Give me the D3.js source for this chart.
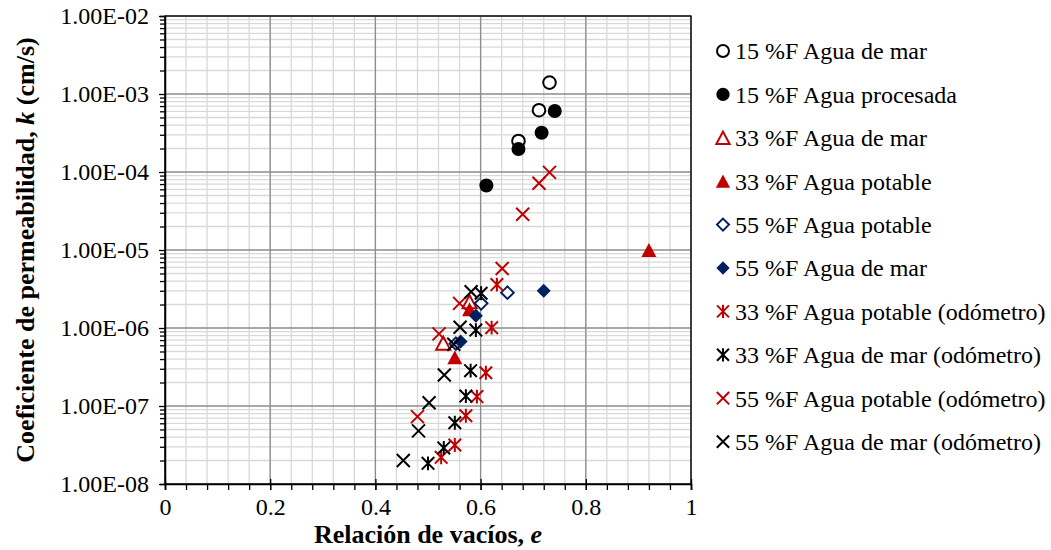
<!DOCTYPE html>
<html>
<head>
<meta charset="utf-8">
<script src="https://cdn.jsdelivr.net/npm/d3@7"></script>
<style>
  html, body { margin: 0; padding: 0; background: #fff; }
  svg { display: block; font-family: "Liberation Serif", "Times New Roman", serif; }
</style>
</head>
<body>
<svg id="chart" width="1051" height="550"></svg>
<script>
// ---------------- DATA ----------------
const seriesNames = [
  "15 %F Agua de mar",
  "15 %F Agua procesada",
  "33 %F Agua de mar",
  "33 %F Agua potable",
  "55 %F Agua potable",
  "55 %F Agua de mar",
  "33 %F Agua potable (odómetro)",
  "33 %F Agua de mar (odómetro)",
  "55 %F Agua potable (odómetro)",
  "55 %F Agua de mar (odómetro)"
];
const e15Mar = [0.731, 0.711, 0.672];
const k15Mar = [1.40e-3, 6.2e-4, 2.5e-4];
const e15Proc = [0.741, 0.716, 0.672, 0.611];
const k15Proc = [6.05e-4, 3.19e-4, 1.97e-4, 6.7e-5];
const e33Mar = [0.579, 0.529];
const k33Mar = [2.17e-6, 6.4e-7];
const e33Pot = [0.92, 0.579, 0.551];
const k33Pot = [1.0e-5, 1.74e-6, 4.2e-7];
const e55Pot = [0.651, 0.601, 0.553];
const k55Pot = [2.84e-6, 2.07e-6, 6.3e-7];
const e55Mar = [0.72, 0.591, 0.562];
const k55Mar = [3.0e-6, 1.44e-6, 6.7e-7];
const e33PotOdo = [0.631, 0.621, 0.610, 0.593, 0.572, 0.551, 0.525];
const k33PotOdo = [3.6e-6, 1.01e-6, 2.67e-7, 1.32e-7, 7.5e-8, 3.16e-8, 2.2e-8];
const e33MarOdo = [0.601, 0.591, 0.581, 0.572, 0.551, 0.530, 0.500];
const k33MarOdo = [2.79e-6, 9.4e-7, 2.84e-7, 1.34e-7, 6.1e-8, 2.9e-8, 1.84e-8];
const e55PotOdo = [0.731, 0.711, 0.680, 0.641, 0.560, 0.521, 0.480];
const k55PotOdo = [9.9e-5, 7.16e-5, 2.87e-5, 5.8e-6, 2.07e-6, 8.4e-7, 7.3e-8];
const e55MarOdo = [0.582, 0.561, 0.549, 0.531, 0.502, 0.482, 0.453];
const k55MarOdo = [2.92e-6, 1.02e-6, 6.2e-7, 2.5e-7, 1.1e-7, 4.8e-8, 2.0e-8];

const xTickValues = [0, 0.2, 0.4, 0.6, 0.8, 1];
const xTickLabels = ["0", "0.2", "0.4", "0.6", "0.8", "1"];
const yTickValues = [1e-8, 1e-7, 1e-6, 1e-5, 1e-4, 1e-3, 1e-2];
const yTickLabels = ["1.00E-08", "1.00E-07", "1.00E-06", "1.00E-05", "1.00E-04", "1.00E-03", "1.00E-02"];
const xTitle = "Relación de vacíos, ";
const yTitle = "Coeficiente de permeabilidad, ";

// ---------------- STYLES ----------------
const RED = "#C00000", NAVY = "#002060", BLACK = "#000000";

// custom symbol types (size = half-width in px)
const symCircle = { draw(c, s) { c.moveTo(s, 0); c.arc(0, 0, s, 0, 2 * Math.PI); } };
const symTri = { draw(c, s) { const h = s * 2 * 0.93; c.moveTo(0, -h / 2); c.lineTo(s, h / 2); c.lineTo(-s, h / 2); c.closePath(); } };
const symDiamond = { draw(c, s) { c.moveTo(0, -s); c.lineTo(s, 0); c.lineTo(0, s); c.lineTo(-s, 0); c.closePath(); } };
const symX = { draw(c, s) { c.moveTo(-s, -s); c.lineTo(s, s); c.moveTo(-s, s); c.lineTo(s, -s); } };
const symStar = { draw(c, s) { c.moveTo(-s, -s); c.lineTo(s, s); c.moveTo(-s, s); c.lineTo(s, -s); c.moveTo(0, -s * 1.1); c.lineTo(0, s * 1.1); } };

const styles = [
  { type: symCircle, size: 6.3, fill: "#fff", stroke: BLACK, sw: 2 },
  { type: symCircle, size: 7, fill: BLACK, stroke: BLACK, sw: 0 },
  { type: symTri, size: 7, fill: "#fff", stroke: RED, sw: 2 },
  { type: symTri, size: 7.5, fill: RED, stroke: RED, sw: 0 },
  { type: symDiamond, size: 6.3, fill: "#fff", stroke: NAVY, sw: 2 },
  { type: symDiamond, size: 7, fill: NAVY, stroke: NAVY, sw: 0 },
  { type: symStar, size: 6.3, fill: "none", stroke: RED, sw: 2 },
  { type: symStar, size: 6.3, fill: "none", stroke: BLACK, sw: 2 },
  { type: symX, size: 6.5, fill: "none", stroke: RED, sw: 2 },
  { type: symX, size: 6.5, fill: "none", stroke: BLACK, sw: 2 }
];

const seriesE = [e15Mar, e15Proc, e33Mar, e33Pot, e55Pot, e55Mar, e33PotOdo, e33MarOdo, e55PotOdo, e55MarOdo];
const seriesK = [k15Mar, k15Proc, k33Mar, k33Pot, k55Pot, k55Mar, k33PotOdo, k33MarOdo, k55PotOdo, k55MarOdo];
const series = seriesNames.map((name, i) => ({
  name, style: styles[i],
  points: seriesE[i].map((e, j) => ({ e, k: seriesK[i][j] }))
}));

// ---------------- LAYOUT ----------------
const L = 165, R = 691, T = 16, B = 484;
const svg = d3.select("#chart");
const x = d3.scaleLinear().domain([0, 1]).range([L, R]);
const y = d3.scaleLog().domain([1e-8, 1e-2]).range([B, T]);

// minor values
const xMinor = d3.range(0, 1.0001, 0.04).map(v => +v.toFixed(2));
const yMinor = [];
for (let p = -8; p < -2; p++) for (let m = 2; m <= 9; m++) yMinor.push(m * Math.pow(10, p));

// gridlines
const grid = svg.append("g");
grid.selectAll(".vmin").data(xMinor).join("line")
  .attr("x1", d => x(d)).attr("x2", d => x(d)).attr("y1", T).attr("y2", B)
  .attr("stroke", "#d9d9d9").attr("stroke-width", 1.3);
grid.selectAll(".hmin").data(yMinor).join("line")
  .attr("x1", L).attr("x2", R).attr("y1", d => y(d)).attr("y2", d => y(d))
  .attr("stroke", "#d9d9d9").attr("stroke-width", 1.3);
grid.selectAll(".vmaj").data(xTickValues).join("line")
  .attr("x1", d => x(d)).attr("x2", d => x(d)).attr("y1", T).attr("y2", B)
  .attr("stroke", "#8c8c8c").attr("stroke-width", 1.3);
grid.selectAll(".hmaj").data(yTickValues).join("line")
  .attr("x1", L).attr("x2", R).attr("y1", d => y(d)).attr("y2", d => y(d))
  .attr("stroke", "#8c8c8c").attr("stroke-width", 1.3);

// plot border
svg.append("rect").attr("x", L).attr("y", T).attr("width", R - L).attr("height", B - T)
  .attr("fill", "none").attr("stroke", "#000").attr("stroke-width", 1.3);

// axes
const fontSize = 24;
// x minor ticks
svg.append("g").attr("transform", `translate(0,${B})`)
  .call(d3.axisBottom(x).tickValues(xMinor).tickSize(6).tickFormat(""))
  .call(g => g.select(".domain").attr("stroke-width", 1.5))
  .call(g => g.selectAll("line").attr("stroke-width", 1.3));
// x major ticks
const xAxis = svg.append("g").attr("transform", `translate(0,${B})`)
  .call(d3.axisBottom(x).tickValues(xTickValues).tickSizeInner(6).tickSizeOuter(0).tickPadding(8)
    .tickFormat((d, i) => xTickLabels[i]));
xAxis.select(".domain").remove();
xAxis.selectAll("line").attr("y1", -5).attr("stroke-width", 1.3);
xAxis.selectAll("text").attr("font-size", fontSize).attr("font-family", "Liberation Serif").attr("fill", "#000");

// y minor ticks
svg.append("g").attr("transform", `translate(${L},0)`)
  .call(d3.axisLeft(y).tickValues(yMinor).tickSize(5).tickFormat(""))
  .call(g => g.select(".domain").attr("stroke-width", 1.5))
  .call(g => g.selectAll("line").attr("stroke-width", 1.3));
// y major ticks
const yAxis = svg.append("g").attr("transform", `translate(${L},0)`)
  .call(d3.axisLeft(y).tickValues(yTickValues).tickSizeInner(6).tickSizeOuter(0).tickPadding(10)
    .tickFormat((d, i) => yTickLabels[i]));
yAxis.select(".domain").remove();
yAxis.selectAll("line").attr("stroke-width", 1.3);
yAxis.selectAll("text").attr("font-size", fontSize).attr("font-family", "Liberation Serif").attr("fill", "#000");

// axis titles
const xt = svg.append("text").attr("x", (L + R) / 2).attr("y", 543).attr("text-anchor", "middle")
  .attr("font-size", 26).attr("font-weight", "bold").attr("font-family", "Liberation Serif");
xt.append("tspan").text(xTitle);
xt.append("tspan").attr("font-style", "italic").text("e");

const yt = svg.append("text").attr("transform", `translate(34,${(T + B) / 2}) rotate(-90)`)
  .attr("text-anchor", "middle").attr("font-size", 26).attr("font-weight", "bold")
  .attr("font-family", "Liberation Serif");
yt.append("tspan").text(yTitle);
yt.append("tspan").attr("font-style", "italic").text("k");
yt.append("tspan").text(" (cm/s)");

// data points
const symbolGen = d3.symbol();
const plot = svg.append("g");
series.forEach(s => {
  plot.append("g").selectAll("path").data(s.points).join("path")
    .attr("transform", d => `translate(${x(d.e)},${y(d.k)})`)
    .attr("d", symbolGen.type(s.style.type).size(s.style.size)())
    .attr("fill", s.style.fill)
    .attr("stroke", s.style.sw ? s.style.stroke : "none")
    .attr("stroke-width", s.style.sw);
});

// legend
const legY0 = 51, legDy = 43.4, legMx = 723, legTx = 735;
const leg = svg.append("g");
series.forEach((s, i) => {
  const cy = legY0 + i * legDy;
  leg.append("path")
    .attr("transform", `translate(${legMx},${cy})`)
    .attr("d", symbolGen.type(s.style.type).size(s.style.size * 0.95)())
    .attr("fill", s.style.fill)
    .attr("stroke", s.style.sw ? s.style.stroke : "none")
    .attr("stroke-width", s.style.sw);
  leg.append("text").attr("x", legTx).attr("y", cy).attr("dy", "0.35em")
    .attr("font-size", fontSize).attr("font-family", "Liberation Serif").text(s.name);
});
</script>
</body>
</html>
